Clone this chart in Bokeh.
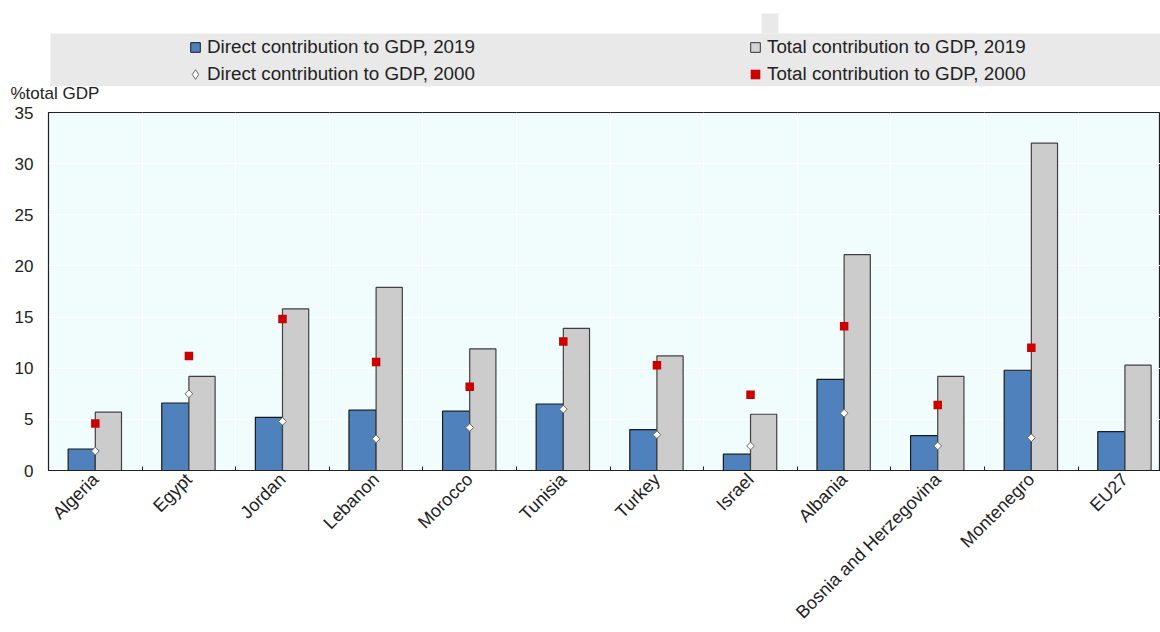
import numpy as np
from bokeh.plotting import figure
from bokeh.layouts import column
from bokeh.models import (Range1d, FixedTicker, Legend, LegendItem, Title,
                          BoxAnnotation, ColumnDataSource)
from bokeh.transform import dodge
from bokeh.embed import file_html
from bokeh.resources import INLINE

# ---------------- data ----------------
categories = ["Algeria", "Egypt", "Jordan", "Lebanon", "Morocco", "Tunisia",
              "Turkey", "Israel", "Albania", "Bosnia and Herzegovina",
              "Montenegro", "EU27"]
direct_2019 = [2.1, 6.6, 5.2, 5.9, 5.8, 6.5, 4.0, 1.6, 8.9, 3.4, 9.8, 3.8]
total_2019 = [5.7, 9.2, 15.8, 17.9, 11.9, 13.9, 11.2, 5.5, 21.1, 9.2, 32.0, 10.3]
direct_2000 = [1.9, 7.5, 4.8, 3.1, 4.2, 6.0, 3.5, 2.4, 5.6, 2.4, 3.2, np.nan]
total_2000 = [4.6, 11.2, 14.8, 10.6, 8.2, 12.6, 10.3, 7.4, 14.1, 6.4, 12.0, np.nan]
y_ticks = [0, 5, 10, 15, 20, 25, 30, 35]
y_label = "%total GDP"
series_names = ["Direct contribution to GDP, 2019", "Total contribution to GDP, 2019",
                "Direct contribution to GDP, 2000", "Total contribution to GDP, 2000"]

FONT = "Liberation Sans"
TXT = "#222222"
BLUE = "#4f81bd"
GREY = "#cccccc"
RED = "#cc0000"
n = len(categories)
centers = np.arange(n) + 0.5

W = 1160
HEAD_H = 102
MAIN_H = 632 - HEAD_H

# ---------------- header (legend band + unit label) ----------------
head = figure(width=W, height=HEAD_H, output_backend="svg", toolbar_location=None,
              x_range=Range1d(0, W), y_range=Range1d(0, HEAD_H),
              x_axis_type=None, y_axis_type=None,
              min_border_left=0, min_border_right=0, min_border_top=0,
              min_border_bottom=16,
              outline_line_color=None, background_fill_color="white",
              border_fill_color="white")
head.grid.visible = False

scr = dict(left_units="screen", right_units="screen",
           top_units="screen", bottom_units="screen")
head.add_layout(BoxAnnotation(left=2, right=W, bottom=0, top=53,
                              fill_color="#e9e9e9", fill_alpha=1, line_color=None, **scr))
head.add_layout(BoxAnnotation(left=713, right=730, bottom=53, top=73,
                              fill_color="#e9e9e9", fill_alpha=1, line_color=None, **scr))

# legend swatch proxies (no visible points)
nan = [np.nan]
sw_blue = head.scatter(x=nan, y=nan, marker="square", fill_color=BLUE,
                       line_color="#1a1a1a", line_width=1)
sw_grey = head.scatter(x=nan, y=nan, marker="square", fill_color="#d4d4d4",
                       line_color="#333333", line_width=1)
sw_dia = head.scatter(x=nan, y=nan, marker="diamond", fill_color="white",
                      line_color="#666666", line_width=1)
sw_red = head.scatter(x=nan, y=nan, marker="square", fill_color=RED, line_color=None)

legend = Legend(items=[LegendItem(label=series_names[0], renderers=[sw_blue]),
                       LegendItem(label=series_names[1], renderers=[sw_grey]),
                       LegendItem(label=series_names[2], renderers=[sw_dia]),
                       LegendItem(label=series_names[3], renderers=[sw_red])],
                location=(135, 0), orientation="horizontal", ncols=2,
                glyph_width=24, glyph_height=24, label_standoff=0,
                label_width=533, spacing=3, padding=0, margin=0,
                background_fill_alpha=0, border_line_color=None,
                label_text_font=FONT, label_text_font_size="18.8px",
                label_text_color=TXT, label_height=20)
head.add_layout(legend)

head.add_layout(Title(text=y_label, align="left", offset=-38, standoff=-6,
                      vertical_align="top", text_font=FONT, text_font_size="17px",
                      text_font_style="normal", text_color=TXT), "below")

# ---------------- main chart ----------------
src = ColumnDataSource(dict(x=centers, cat=categories, d19=direct_2019, t19=total_2019,
                            d00=direct_2000, t00=total_2000))

p = figure(width=W, height=MAIN_H, output_backend="svg", toolbar_location=None,
           x_range=Range1d(0, n * 0.99), y_range=Range1d(0, 35),
           min_border_left=48, min_border_top=112 - HEAD_H, min_border_bottom=162,
           min_border_right=0,
           background_fill_color="#f1fcfd", border_fill_color="white",
           outline_line_color=TXT, outline_line_width=1.2)

p.vbar(x=dodge("x", -0.145), top="d19", width=0.29, bottom=0, source=src,
       fill_color=BLUE, line_color="#1a1a1a", line_width=1.2)
p.vbar(x=dodge("x", 0.14), top="t19", width=0.28, bottom=0, source=src,
       fill_color=GREY, line_color="#404040", line_width=1.2)
p.scatter(x="x", y="d00", source=src, marker="square", angle=np.pi / 4, size=5.5,
          fill_color="white", line_color="#666666", line_width=1)
p.scatter(x="x", y="t00", source=src, marker="square", size=8.5,
          fill_color=RED, line_color=None)

p.yaxis.ticker = FixedTicker(ticks=y_ticks)
p.yaxis.major_tick_line_color = None
p.yaxis.major_tick_out = 0
p.yaxis.minor_tick_line_color = None
p.yaxis.axis_line_color = TXT
p.yaxis.major_label_standoff = 15
p.yaxis.major_label_text_font = FONT
p.yaxis.major_label_text_font_size = "17px"
p.yaxis.major_label_text_color = TXT

p.xaxis.ticker = FixedTicker(ticks=list(centers), minor_ticks=list(range(1, n)))
p.xaxis.major_label_overrides = {float(c): lab for c, lab in zip(centers, categories)}
p.xaxis.major_label_orientation = np.pi / 4
p.xaxis.major_tick_line_color = None
p.xaxis.major_tick_out = 0
p.xaxis.minor_tick_in = 4
p.xaxis.minor_tick_out = 0
p.xaxis.minor_tick_line_color = TXT
p.xaxis.axis_line_color = TXT
p.xaxis.major_label_standoff = 6
p.xaxis.major_label_text_font = FONT
p.xaxis.major_label_text_font_size = "18px"
p.xaxis.major_label_text_color = TXT

p.xgrid.grid_line_color = None
p.xgrid.minor_grid_line_color = "white"
p.ygrid.grid_line_color = "white"
p.ygrid.grid_line_width = 1

open("out.html", "w").write(file_html(column(head, p), INLINE))
